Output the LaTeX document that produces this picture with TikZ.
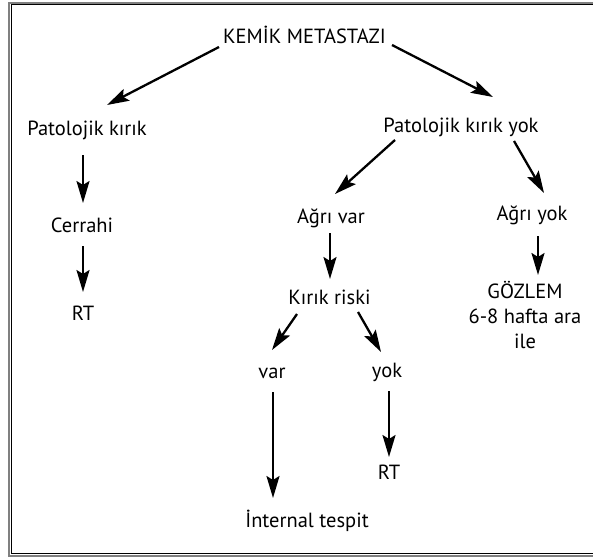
\documentclass[tikz,border=0pt]{standalone}
\usepackage{fontspec}
\setmainfont{PT Sans}
\usetikzlibrary{arrows.meta}
\definecolor{cergri}{HTML}{808080}
\tikzset{
  % akış şemasındaki yazı
  lbl/.style={font=\fontsize{20.5}{25}\selectfont, inner sep=0pt, anchor=base, align=center},
  % ok
  msg/.style={-{Stealth[length=22pt, width=13pt, inset=4pt]}, line width=2.3pt},
  % çerçeve çizgileri
  dis/.style={cergri, line width=2pt},
  ic/.style={black, line width=0.9pt},
}

\begin{document}
\begin{tikzpicture}[x=1pt, y=-1pt]
  \useasboundingbox (0,0) rectangle (593,557);
  \draw[dis] (600,2.7) -- (9,2.7) -- (9,555.5) -- (600,555.5);
  \draw[ic] (600,4.6) -- (11.3,4.6) -- (11.3,553.7) -- (600,553.7);

  \node[lbl] (kemik) at (304.5,43) {KEMİK METASTAZI};
  \node[lbl] (patk) at (87,135) {Patolojik kırık};
  \node[lbl] (pkyok) at (461,132) {Patolojik kırık yok};
  \node[lbl] (cerrahi) at (82,232) {Cerrahi};
  \node[lbl] (rtsol) at (83,320) {RT};
  \node[lbl] (agrivar) at (331,223) {Ağrı var};
  \node[lbl] (agriyok) at (532,220) {Ağrı yok};
  \node[lbl] (kirik) at (329.5,304) {Kırık riski};
  \node[lbl, anchor=north] (gozlem) at (525,281) {GÖZLEM\\6-8 hafta ara\\ile};
  \node[lbl] (var) at (272,378) {var};
  \node[lbl] (yok) at (387,377) {yok};
  \node[lbl] (rtorta) at (389,479) {RT};
  \node[lbl] (internal) at (307,527) {İnternal tespit};

  \draw[msg] ([shift={(-85.5,4)}]kemik.base) -- ([shift={(20,-30)}]patk.base);
  \draw[msg] ([shift={(87.5,2)}]kemik.base) -- ([shift={(32,-35)}]pkyok.base);
  \draw[msg] ([shift={(-66,8)}]pkyok.base) -- ([shift={(4,-29)}]agrivar.base);
  \draw[msg] ([shift={(53,9)}]pkyok.base) -- ([shift={(12,-27)}]agriyok.base);
  \draw[msg] ([shift={(-4,20)}]patk.base) -- ([shift={(1,-29)}]cerrahi.base);
  \draw[msg] ([shift={(1,14)}]cerrahi.base) -- ([shift={(0,-28)}]rtsol.base);
  \draw[msg] ([shift={(-1,10)}]agrivar.base) -- ([shift={(0.5,-25)}]kirik.base);
  \draw[msg] ([shift={(6,16)}]agriyok.base) -- ([shift={(13,-6)}]gozlem.north);
  \draw[msg] ([shift={(-32.5,10)}]kirik.base) -- ([shift={(0,-28)}]var.base);
  \draw[msg] ([shift={(28.5,8)}]kirik.base) -- ([shift={(-6,-25)}]yok.base);
  \draw[msg] ([shift={(1,14)}]var.base) -- ([shift={(-34,-29)}]internal.base);
  \draw[msg] ([shift={(2,14)}]yok.base) -- ([shift={(0,-22)}]rtorta.base);
\end{tikzpicture}
\end{document}
